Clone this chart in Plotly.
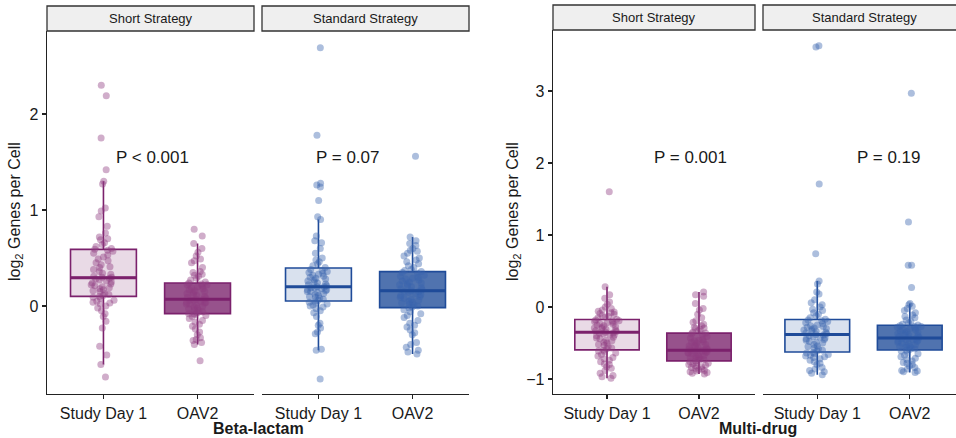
import numpy as np
import plotly.graph_objects as go

# ---------------- data ----------------
timepoints = ["Study Day 1", "OAV2"]
strategies = ["Short Strategy", "Standard Strategy"]
panels = ["Beta-lactam", "Multi-drug"]
p_labels_bl = ["P < 0.001", "P = 0.07"]
p_labels_md = ["P = 0.001", "P = 0.19"]
yticks_bl = [0, 1, 2]
yticks_md = [-1, 0, 1, 2, 3]

bl_short_day1 = [-0.74, -0.61, -0.51, -0.42, -0.23, -0.16, -0.11, -0.08, -0.05, -0.02,
                 0.00, 0.02, 0.03, 0.04, 0.05, 0.06, 0.08, 0.09, 0.10, 0.11,
                 0.12, 0.13, 0.15, 0.16, 0.17, 0.18, 0.19, 0.20, 0.21, 0.22,
                 0.23, 0.24, 0.25, 0.26, 0.27, 0.28, 0.29, 0.30, 0.30,
                 0.31, 0.33, 0.34, 0.36, 0.38, 0.40, 0.41, 0.43, 0.45, 0.47,
                 0.49, 0.51, 0.53, 0.55, 0.57, 0.58, 0.59, 0.60,
                 0.62, 0.64, 0.66, 0.69, 0.70, 0.72, 0.76, 0.83, 0.93, 0.99,
                 1.02, 1.27, 1.30, 1.42, 1.75, 2.19, 2.30]
bl_short_oav2 = [-0.57, -0.40, -0.38, -0.36, -0.35, -0.33, -0.30, -0.27, -0.24, -0.21,
                 -0.19, -0.17, -0.15, -0.13, -0.11, -0.10, -0.09, -0.08, -0.08, -0.07,
                 -0.06, -0.05, -0.04, -0.03, -0.02, -0.01, 0.00, 0.01, 0.02, 0.02,
                 0.03, 0.04, 0.04, 0.05, 0.06, 0.06, 0.07, 0.07,
                 0.08, 0.09, 0.10, 0.11, 0.12, 0.13, 0.14, 0.15, 0.16, 0.17,
                 0.18, 0.19, 0.20, 0.21, 0.22, 0.22, 0.23, 0.24,
                 0.25, 0.27, 0.29, 0.31, 0.32, 0.33, 0.35, 0.36, 0.40, 0.45,
                 0.47, 0.49, 0.52, 0.56, 0.60, 0.65, 0.73, 0.80]
bl_std_day1 = [-0.76, -0.46, -0.45, -0.29, -0.27, -0.23, -0.20, -0.18, -0.11, -0.07,
               -0.05, -0.03, -0.01, 0.00, 0.01, 0.02, 0.03, 0.04, 0.05, 0.06,
               0.07, 0.08, 0.09, 0.10, 0.11, 0.12, 0.13, 0.14, 0.15, 0.15,
               0.16, 0.17, 0.17, 0.18, 0.19, 0.19, 0.20, 0.20,
               0.21, 0.22, 0.23, 0.24, 0.25, 0.26, 0.27, 0.28, 0.29, 0.30,
               0.31, 0.32, 0.33, 0.34, 0.35, 0.36, 0.37,
               0.38, 0.40, 0.42, 0.44, 0.46, 0.48, 0.50, 0.55, 0.60, 0.66,
               0.68, 0.73, 0.90, 0.93, 1.10, 1.24, 1.26, 1.28, 1.78, 2.69]
bl_std_oav2 = [-0.50, -0.48, -0.46, -0.43, -0.40, -0.38, -0.30, -0.28, -0.25, -0.22,
               -0.20, -0.18, -0.15, -0.12, -0.10, -0.08, -0.06, -0.04, -0.02, -0.01,
               0.00, 0.01, 0.02, 0.03, 0.04, 0.05, 0.06, 0.07, 0.08, 0.09,
               0.10, 0.11, 0.12, 0.13, 0.14, 0.15, 0.15, 0.16,
               0.17, 0.18, 0.19, 0.20, 0.21, 0.22, 0.23, 0.24, 0.25, 0.26,
               0.27, 0.28, 0.29, 0.30, 0.31, 0.32, 0.34,
               0.35, 0.36, 0.37, 0.38, 0.40, 0.42, 0.44, 0.46, 0.48, 0.50,
               0.52, 0.55, 0.57, 0.58, 0.60, 0.63, 0.65, 0.68, 0.72, 1.56]

md_short_day1 = [-0.99, -0.97, -0.95, -0.92, -0.88, -0.85, -0.83, -0.80, -0.79, -0.76,
                 -0.74, -0.72, -0.70, -0.68, -0.66, -0.64, -0.62, -0.61, -0.60, -0.58,
                 -0.57, -0.55, -0.53, -0.52, -0.50, -0.49, -0.47, -0.46, -0.44, -0.43,
                 -0.42, -0.40, -0.39, -0.38, -0.37, -0.36, -0.36, -0.35,
                 -0.34, -0.33, -0.32, -0.31, -0.30, -0.29, -0.28, -0.27, -0.26, -0.25,
                 -0.24, -0.23, -0.22, -0.21, -0.20, -0.19, -0.19,
                 -0.18, -0.17, -0.15, -0.14, -0.13, -0.12, -0.10, -0.09, -0.08, -0.07,
                 -0.06, -0.04, -0.02, 0.00, 0.04, 0.07, 0.12, 0.17, 0.28, 1.60]
md_short_oav2 = [-0.93, -0.92, -0.91, -0.90, -0.89, -0.88, -0.87, -0.86, -0.85, -0.84,
                 -0.83, -0.82, -0.81, -0.80, -0.79, -0.78, -0.77, -0.76, -0.75, -0.74,
                 -0.73, -0.72, -0.71, -0.70, -0.69, -0.68, -0.67, -0.66, -0.65, -0.64,
                 -0.63, -0.63, -0.62, -0.61, -0.61, -0.60, -0.60, -0.60,
                 -0.59, -0.58, -0.57, -0.56, -0.55, -0.54, -0.53, -0.52, -0.50, -0.49,
                 -0.48, -0.47, -0.46, -0.45, -0.43, -0.41, -0.38,
                 -0.37, -0.36, -0.35, -0.33, -0.31, -0.30, -0.29, -0.28, -0.26, -0.24,
                 -0.21, -0.19, -0.15, -0.10, -0.04, -0.02, 0.05, 0.15, 0.17, 0.21]
md_std_day1 = [-0.94, -0.92, -0.90, -0.88, -0.86, -0.84, -0.80, -0.78, -0.76, -0.74,
               -0.72, -0.70, -0.69, -0.68, -0.67, -0.66, -0.65, -0.64, -0.63, -0.61,
               -0.60, -0.58, -0.57, -0.55, -0.54, -0.52, -0.50, -0.49, -0.48, -0.46,
               -0.45, -0.44, -0.43, -0.42, -0.41, -0.40, -0.39, -0.38,
               -0.37, -0.36, -0.35, -0.34, -0.33, -0.32, -0.31, -0.30, -0.29, -0.28,
               -0.27, -0.26, -0.25, -0.23, -0.22, -0.20, -0.19,
               -0.18, -0.17, -0.15, -0.12, -0.10, -0.08, -0.05, -0.03, 0.00, 0.03,
               0.06, 0.10, 0.18, 0.21, 0.32, 0.36, 0.74, 1.71, 3.61, 3.63]
md_std_oav2 = [-0.91, -0.90, -0.89, -0.88, -0.86, -0.84, -0.82, -0.80, -0.78, -0.77,
               -0.75, -0.73, -0.71, -0.69, -0.67, -0.65, -0.63, -0.61, -0.60, -0.59,
               -0.58, -0.57, -0.56, -0.55, -0.54, -0.53, -0.52, -0.51, -0.50, -0.49,
               -0.48, -0.47, -0.46, -0.45, -0.45, -0.44, -0.44, -0.43,
               -0.42, -0.41, -0.40, -0.39, -0.38, -0.37, -0.36, -0.35, -0.34, -0.33,
               -0.32, -0.31, -0.30, -0.29, -0.28, -0.27, -0.27,
               -0.26, -0.25, -0.24, -0.22, -0.20, -0.18, -0.15, -0.13, -0.11, -0.08,
               -0.05, -0.02, 0.01, 0.03, 0.05, 0.27, 0.58, 0.58, 1.18, 2.97]

# ---------------- styling ----------------
W, H = 956, 438
FONT = "Liberation Sans, Arial, sans-serif"
TXT = "#1a1a1a"
BOXW = 0.7

def fx(p):
    return p / W

def fy(p):
    return 1 - p / H

styles = {
    "Short Strategy": dict(line="#7B216C", point="#8E3C80",
                           fills=["rgba(122,33,108,0.17)", "rgba(122,33,108,0.78)"]),
    "Standard Strategy": dict(line="#1F4B99", point="#3A64AE",
                              fills=["rgba(31,75,153,0.17)", "rgba(31,75,153,0.78)"]),
}

groups = [
    (0, "Short Strategy", "x", "y", [bl_short_day1, bl_short_oav2]),
    (0, "Standard Strategy", "x2", "y", [bl_std_day1, bl_std_oav2]),
    (1, "Short Strategy", "x3", "y2", [md_short_day1, md_short_oav2]),
    (1, "Standard Strategy", "x4", "y2", [md_std_day1, md_std_oav2]),
]

fig = go.Figure()
for pi, strat, xa, ya, series in groups:
    st = styles[strat]
    for ti, tp in enumerate(timepoints):
        vals = series[ti]
        fig.add_trace(go.Box(
            x=[tp] * len(vals), y=vals, xaxis=xa, yaxis=ya,
            boxpoints="all", jitter=0.42, pointpos=0, width=BOXW,
            whiskerwidth=0, fillcolor=st["fills"][ti],
            line=dict(color=st["line"], width=1.6),
            marker=dict(color=st["point"], opacity=0.42, size=7,
                        line=dict(width=0)),
            showlegend=False, hoverinfo="skip", quartilemethod="linear",
        ))
        # thicker median line (ggplot style), value computed from the data
        med = float(np.median(vals))
        fig.add_shape(type="line", xref=xa, yref=ya,
                      x0=ti - BOXW / 2, x1=ti + BOXW / 2, y0=med, y1=med,
                      line=dict(color=st["line"], width=3), layer="above")

# ---------------- axes ----------------
xdoms = {"xaxis": (47, 254), "xaxis2": (262, 469), "xaxis3": (553, 755), "xaxis4": (763, 956)}
xranges = {"xaxis": [-0.6, 1.6], "xaxis2": [-0.6, 1.6], "xaxis3": [-0.587, 1.609], "xaxis4": [-0.587, 1.5]}
xanchor = {"xaxis": "y", "xaxis2": "y", "xaxis3": "y2", "xaxis4": "y2"}
layout = {}
axis_common = dict(showline=True, linecolor="#222", linewidth=1.4,
                   ticks="outside", ticklen=4, tickcolor="#222", tickwidth=1.2,
                   tickfont=dict(family=FONT, size=16, color=TXT),
                   showgrid=False, zeroline=False)
for k, (a, b) in xdoms.items():
    layout[k] = dict(domain=[fx(a), fx(b)], type="category",
                     categoryorder="array", categoryarray=timepoints,
                     range=xranges[k], anchor=xanchor[k], **axis_common)
layout["yaxis"] = dict(domain=[fy(394), fy(31)], range=[-0.917, 2.865],
                       tickvals=yticks_bl, anchor="x", **axis_common)
layout["yaxis2"] = dict(domain=[fy(394), fy(30)], range=[-1.208, 3.847],
                        tickvals=yticks_md, anchor="x3", **axis_common)

fig.update_layout(
    width=W, height=H, autosize=False,
    margin=dict(l=0, r=0, t=0, b=0, pad=0),
    paper_bgcolor="white", plot_bgcolor="white",
    font=dict(family=FONT, color=TXT),
    boxmode="overlay",
    **layout,
)

# ---------------- strips ----------------
strips = [
    (47, 254, 6, 31, 150.5, strategies[0]),
    (262, 469, 6, 31, 365.5, strategies[1]),
    (553, 755, 5, 30, 654, strategies[0]),
    (763, 975, 5, 30, 864, strategies[1]),
]
for x0, x1, y0, y1, xc, lab in strips:
    fig.add_shape(type="rect", xref="paper", yref="paper",
                  x0=fx(x0), x1=fx(x1), y0=fy(y1), y1=fy(y0),
                  fillcolor="#EFEFEF", line=dict(color="#333", width=1.3), layer="above")
    fig.add_annotation(xref="paper", yref="paper", x=fx(xc),
                       y=fy((y0 + y1) / 2), text=lab, showarrow=False,
                       font=dict(family=FONT, size=13, color=TXT),
                       xanchor="center", yanchor="middle")

# ---------------- titles ----------------
for xc, lab in [(258, panels[0]), (758, panels[1])]:
    fig.add_annotation(xref="paper", yref="paper", x=fx(xc), y=fy(428),
                       text="<b>" + lab + "</b>", showarrow=False,
                       font=dict(family=FONT, size=16, color=TXT),
                       xanchor="center", yanchor="middle")
for xc in [15, 513]:
    fig.add_annotation(xref="paper", yref="paper", x=fx(xc), y=fy(212),
                       text="log<sub>2</sub> Genes per Cell", textangle=-90,
                       showarrow=False, font=dict(family=FONT, size=16, color=TXT),
                       xanchor="center", yanchor="middle")

# ---------------- p-values ----------------
p_pos = [("x", "y", 0.52, 1.55, p_labels_bl[0]),
         ("x2", "y", 0.31, 1.55, p_labels_bl[1]),
         ("x3", "y2", 0.91, 2.08, p_labels_md[0]),
         ("x4", "y2", 0.78, 2.08, p_labels_md[1])]
for xr, yr, xv, yv, lab in p_pos:
    fig.add_annotation(xref=xr, yref=yr, x=xv, y=yv, text=lab, showarrow=False,
                       font=dict(family=FONT, size=17, color=TXT),
                       xanchor="center", yanchor="middle")

fig.write_html("out.html", config={"displayModeBar": False, "staticPlot": True},
               post_script="document.body.style.margin='0px';document.body.style.overflow='hidden';")
